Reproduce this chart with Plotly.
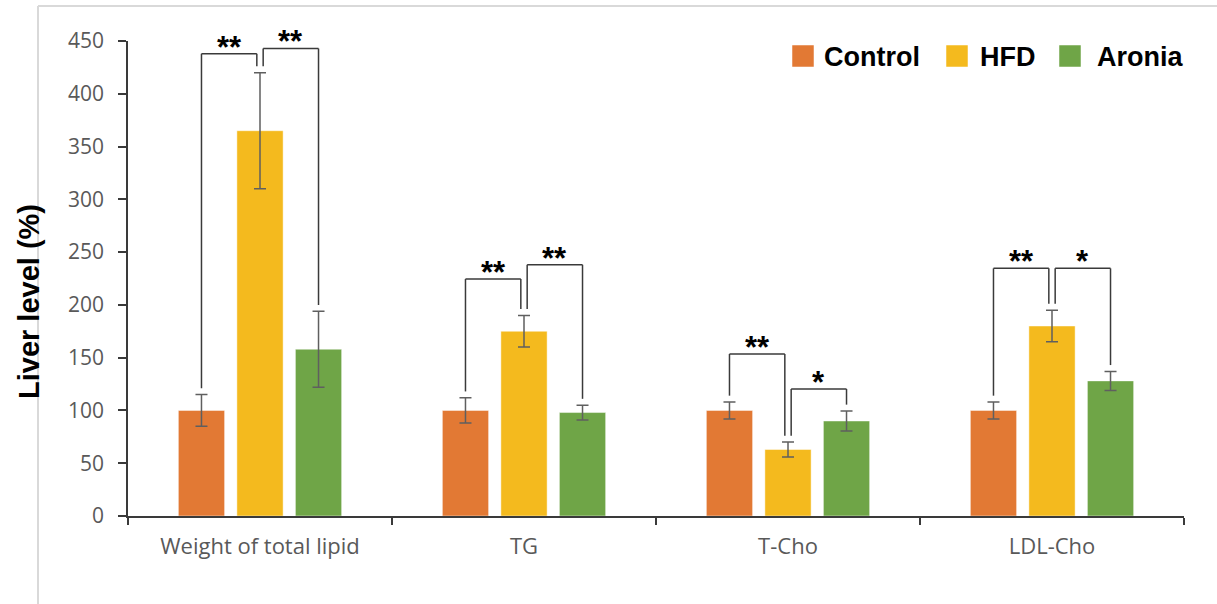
import plotly.graph_objects as go

# ---- data -------------------------------------------------------------
categories = ["Weight of total lipid", "TG", "T-Cho", "LDL-Cho"]
groups = ["Control", "HFD", "Aronia"]

control = [100, 100, 100, 100]
control_err = [15, 12, 8, 8]
hfd = [365, 175, 63, 180]
hfd_err = [55, 15, 7, 15]
aronia = [158, 98, 90, 128]
aronia_err = [36, 7, 9.5, 9]

y_ticks = [0, 50, 100, 150, 200, 250, 300, 350, 400, 450]

# significance brackets: category, left group, right group, bracket height, label
sig_category = [0, 0, 1, 1, 2, 2, 3, 3]
sig_left = ["Control", "HFD", "Control", "HFD", "Control", "HFD", "Control", "HFD"]
sig_right = ["HFD", "Aronia", "HFD", "Aronia", "HFD", "Aronia", "HFD", "Aronia"]
sig_level = [438, 443, 224.5, 238, 153.5, 120.3, 234.6, 234.6]
sig_label = ["**", "**", "**", "**", "**", "*", "**", "*"]

colors = {"Control": "#E27934", "HFD": "#F4BA1E", "Aronia": "#6FA547"}
values = {"Control": control, "HFD": hfd, "Aronia": aronia}
errors = {"Control": control_err, "HFD": hfd_err, "Aronia": aronia_err}

# ---- geometry -----------------------------------------------------------
W, H = 1217, 604
L, R, T, B = 128, 33, 41, 88
PW, PH = W - L - R, H - T - B
BARGAP = 0.335
SLOT = (1 - BARGAP) / len(groups)
offsets = {g: (i - (len(groups) - 1) / 2) * SLOT for i, g in enumerate(groups)}


def px_x(px):
    return (px - L) / PW


def px_y(py):
    return (H - B - py) / PH


fig = go.Figure()
for g in groups:
    fig.add_trace(go.Bar(
        name=g,
        x=categories,
        y=values[g],
        marker=dict(color=colors[g], line=dict(color="rgba(255,255,255,0.45)", width=1)),
        error_y=dict(type="data", array=errors[g], color="#5F5F5F", thickness=1.5, width=6),
        showlegend=False,
    ))

# ---- significance brackets ---------------------------------------------
shapes = []
annotations = []
leg_gap = 6
inner = 0.012
for c, a, b, lvl, lab in zip(sig_category, sig_left, sig_right, sig_level, sig_label):
    xa = c + offsets[a] + (inner if a == "HFD" else 0)
    xb = c + offsets[b] - (inner if b == "HFD" else 0)
    ya = values[a][c] + errors[a][c] + leg_gap
    yb = values[b][c] + errors[b][c] + leg_gap
    line = dict(color="#3A3A3A", width=1.5)
    shapes.append(dict(type="line", xref="x", yref="y", x0=xa, x1=xa, y0=ya, y1=lvl, line=line))
    shapes.append(dict(type="line", xref="x", yref="y", x0=xa, x1=xb, y0=lvl, y1=lvl, line=line))
    shapes.append(dict(type="line", xref="x", yref="y", x0=xb, x1=xb, y0=yb, y1=lvl, line=line))
    annotations.append(dict(
        xref="x", yref="y", x=(xa + xb) / 2, y=lvl, text="<b>" + lab + "</b>", showarrow=False,
        xanchor="center", yanchor="bottom", yshift=-13,
        font=dict(family="Liberation Sans, Arial", size=31, color="#000000"),
    ))

# ---- chart-area frame ---------------------------------------------------
frame = dict(color="#D9D9D9", width=2)
shapes.append(dict(type="line", xref="paper", yref="paper",
                   x0=px_x(38), x1=px_x(W + 5), y0=px_y(6), y1=px_y(6), line=frame))
shapes.append(dict(type="line", xref="paper", yref="paper",
                   x0=px_x(38), x1=px_x(38), y0=px_y(6), y1=px_y(H + 5), line=frame))

# ---- legend --------------------------------------------------------------
legend_sq = [792, 946, 1059]
legend_txt = [822, 978, 1095]
for g, sx, tx in zip(groups, legend_sq, legend_txt):
    shapes.append(dict(type="rect", xref="paper", yref="paper",
                       x0=px_x(sx), x1=px_x(sx + 22), y0=px_y(45), y1=px_y(67),
                       fillcolor=colors[g], line=dict(color="rgba(255,255,255,0.5)", width=1)))
    annotations.append(dict(xref="paper", yref="paper", x=px_x(tx), y=px_y(57),
                            text="<b>" + g + "</b>", showarrow=False, xanchor="left",
                            yanchor="middle",
                            font=dict(family="Liberation Sans, Arial", size=27, color="#000000")))

# ---- y-axis title --------------------------------------------------------
annotations.append(dict(xref="paper", yref="paper", x=px_x(29), y=px_y(302),
                        text="<b>Liver level (%)</b>", showarrow=False, textangle=-90,
                        xanchor="center", yanchor="middle",
                        font=dict(family="Liberation Sans, Arial", size=29, color="#000000")))

fig.update_layout(
    width=W, height=H,
    margin=dict(l=L, r=R, t=T, b=B),
    paper_bgcolor="white", plot_bgcolor="white",
    barmode="group", bargap=BARGAP, bargroupgap=0.21,
    shapes=shapes, annotations=annotations,
    font=dict(family="Open Sans", size=21, color="#595959"),
    xaxis=dict(
        type="category", range=[-0.5, 3.5], tickson="boundaries",
        ticks="outside", ticklen=7, tickwidth=1.5, tickcolor="#3A3A3A",
        showline=True, linecolor="#3A3A3A", linewidth=1.5,
        showgrid=False, zeroline=False, ticklabelstandoff=10,
        tickfont=dict(family="Open Sans", size=22, color="#595959"),
    ),
    yaxis=dict(
        range=[0, 450], tickvals=y_ticks, ticks="outside", ticklen=8,
        tickwidth=1.5, tickcolor="#3A3A3A",
        showline=True, linecolor="#3A3A3A", linewidth=1.5,
        showgrid=False, zeroline=False, ticklabelstandoff=10,
        tickfont=dict(family="Open Sans", size=21, color="#595959"),
    ),
)

fig.write_html("out.html")
